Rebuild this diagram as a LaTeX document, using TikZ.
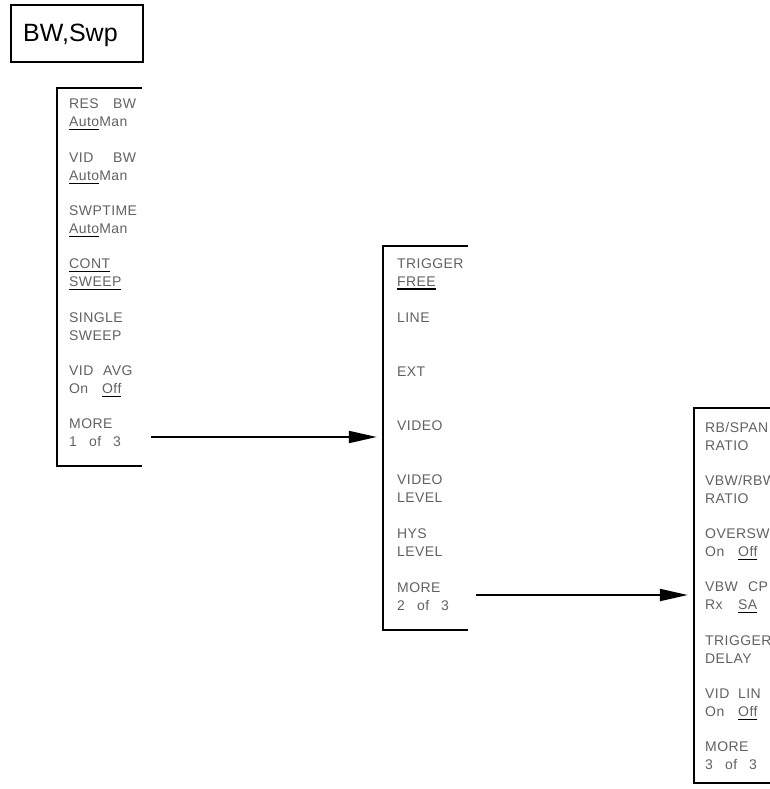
\documentclass[tikz,border=0pt]{standalone}
\usepackage{fontspec}
\setmainfont{Liberation Sans}
\newfontfamily\hpfont[LetterSpace=3]{Liberation Sans}
\usetikzlibrary{arrows.meta}
\newcommand\hpul[1]{\setbox0\hbox{#1}\rlap{\color{black}\rule[-3.5pt]{\wd0}{1.1pt}}\box0}
\newcommand\hpline[4]{\node[hptext] (#1) at (#2,#3) {#4};}
\begin{document}
\begin{tikzpicture}[x=1pt,y=-1pt,
  hptext/.style={anchor=base west, inner sep=0pt, font=\hpfont\fontsize{14pt}{16pt}\selectfont, text=black!62},
  frame/.style={line width=1.8pt},
  menubox/.style={inner sep=0pt},
  link/.style={line width=2pt, shorten >=6pt, -{Triangle[length=28pt,width=12pt]}}]
\useasboundingbox (0,0) rectangle (770,789);
\clip (0,0) rectangle (770,789);

% hard key
\node[draw, line width=2.5pt, minimum width=132pt, minimum height=57pt, inner sep=0pt] (key) at (77,33.5) {};
\node[anchor=base west, inner sep=0pt, font=\fontsize{25pt}{28pt}\selectfont] (keytext) at (23,42) {BW,Swp};

% menu frames
\node[menubox, minimum width=85pt, minimum height=378pt] (menu1) at (99.5,277) {};
\node[menubox, minimum width=85pt, minimum height=384pt] (menu2) at (425.5,438) {};
\node[menubox, minimum width=96pt, minimum height=375pt] (menu3) at (742,595.5) {};
\draw[frame] (menu1.north east) -- (menu1.north west) -- (menu1.south west) -- (menu1.south east);
\draw[frame] (menu2.north east) -- (menu2.north west) -- (menu2.south west) -- (menu2.south east);
\draw[frame] (menu3.north east) -- (menu3.north west) -- (menu3.south west) -- (menu3.south east);

% menu 1
\hpline{m1a}{69}{109}{\makebox[44pt][l]{RES}BW}
\hpline{m1b}{69}{127}{\hpul{Auto}Man}
\hpline{m1c}{69}{162.3}{\makebox[44pt][l]{VID}BW}
\hpline{m1d}{69}{180.3}{\hpul{Auto}Man}
\hpline{m1e}{69}{215.6}{SWPTIME}
\hpline{m1f}{69}{233.6}{\hpul{Auto}Man}
\hpline{m1g}{69}{268.9}{\hpul{CONT}}
\hpline{m1h}{69}{286.9}{\hpul{SWEEP}}
\hpline{m1i}{69}{322.2}{SINGLE}
\hpline{m1j}{69}{340.2}{SWEEP}
\hpline{m1k}{69}{375.5}{\makebox[34pt][l]{VID}AVG}
\hpline{m1l}{69}{393.5}{\makebox[33pt][l]{On}\hpul{Off}}
\hpline{m1m}{69}{428.8}{MORE}
\hpline{m1n}{69}{446.8}{\makebox[20pt][l]{1}\makebox[24pt][l]{of}3}

% menu 2
\hpline{m2a}{397}{268}{TRIGGER}
\hpline{m2b}{397}{286}{\hpul{FREE}}
\hpline{m2c}{397}{322}{LINE}
\hpline{m2d}{397}{376}{EXT}
\hpline{m2e}{397}{430}{VIDEO}
\hpline{m2f}{397}{484}{VIDEO}
\hpline{m2g}{397}{502}{LEVEL}
\hpline{m2h}{397}{538}{HYS}
\hpline{m2i}{397}{556}{LEVEL}
\hpline{m2j}{397}{592}{MORE}
\hpline{m2k}{397}{610}{\makebox[20pt][l]{2}\makebox[24pt][l]{of}3}

% menu 3
\hpline{m3a}{705}{432}{RB/SPAN}
\hpline{m3b}{705}{450}{RATIO}
\hpline{m3c}{705}{485.3}{VBW/RBW}
\hpline{m3d}{705}{503.3}{RATIO}
\hpline{m3e}{705}{538.6}{OVERSWP}
\hpline{m3f}{705}{556.6}{\makebox[33pt][l]{On}\hpul{Off}}
\hpline{m3g}{705}{591.9}{\makebox[43pt][l]{VBW}CP}
\hpline{m3h}{705}{609.9}{\makebox[33pt][l]{Rx}\hpul{SA}}
\hpline{m3i}{705}{645.2}{TRIGGER}
\hpline{m3j}{705}{663.2}{DELAY}
\hpline{m3k}{705}{698.5}{\makebox[33pt][l]{VID}LIN}
\hpline{m3l}{705}{716.5}{\makebox[33pt][l]{On}\hpul{Off}}
\hpline{m3m}{705}{751.8}{MORE}
\hpline{m3n}{705}{769.8}{\makebox[20pt][l]{3}\makebox[24pt][l]{of}3}

% connectors
\coordinate (a1) at (151,437);
\coordinate (a2) at (476,595);
\draw[link] (a1) -- (a1 -| menu2.west);
\draw[link] (a2) -- (a2 -| menu3.west);
\end{tikzpicture}
\end{document}
